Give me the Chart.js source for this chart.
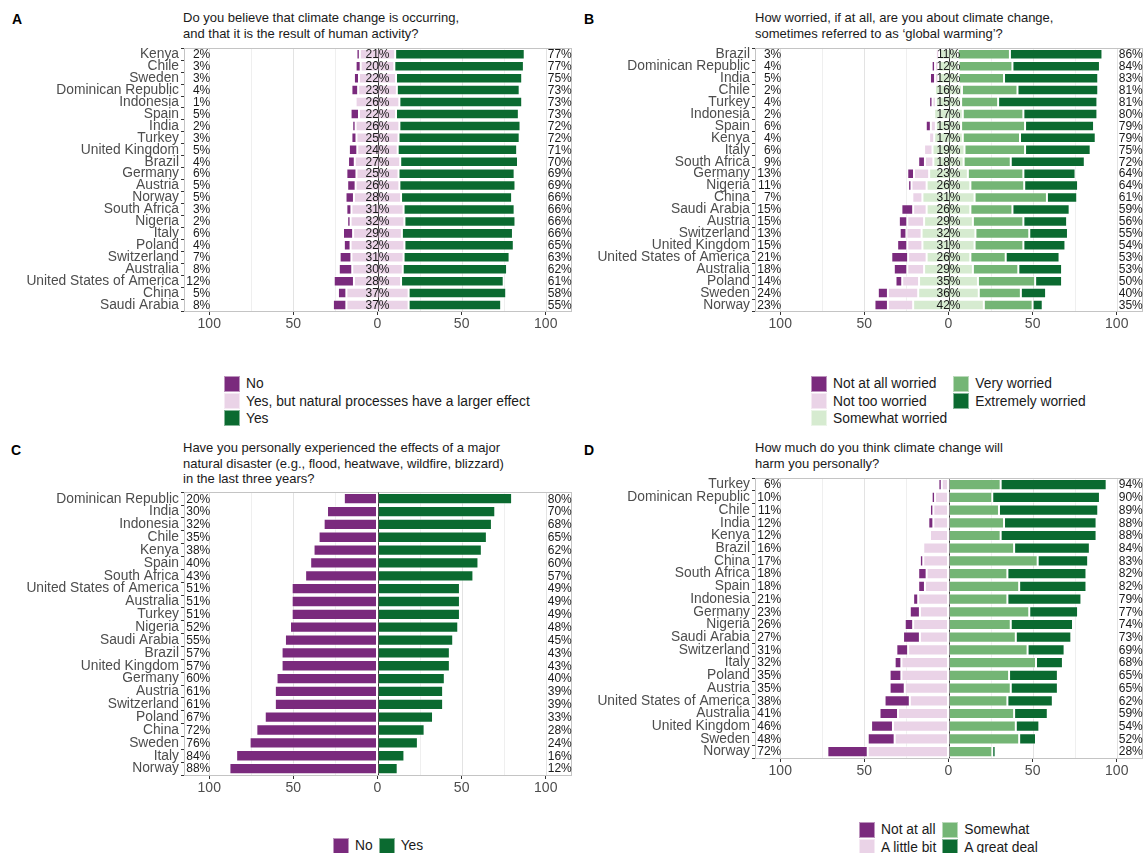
<!DOCTYPE html>
<html>
<head>
<meta charset="utf-8">
<script src="https://cdn.jsdelivr.net/npm/chart.js@4.4.0/dist/chart.umd.min.js"></script>
<style>
  body { margin: 0; background: #fff; font-family: "Liberation Sans", Arial, sans-serif; }
  #page { position: relative; width: 1144px; height: 853px; overflow: hidden; background: #fff; }
  .tag { position: absolute; font-weight: bold; font-size: 14px; color: #000; line-height: 16px; }
  .title { position: absolute; font-size: 13px; line-height: 15.7px; color: #1a1a1a; white-space: nowrap; }
  .legend { position: absolute; font-size: 13.8px; color: #1a1a1a; display: flex; gap: 6px; }
  .legend .col { display: flex; flex-direction: column; }
  .legend .item { display: flex; align-items: center; height: 17.4px; white-space: nowrap; }
  .legend .sw { width: 16px; height: 16px; margin-right: 6px; box-sizing: border-box; border: 1px solid rgba(255,255,255,0.5); }
  canvas { position: absolute; }
</style>
</head>
<body>
<div id="page">
  <div class="tag" style="left:12px;top:11px">A</div>
  <div class="title" style="left:183px;top:10px">Do you believe that climate change is occurring,<br>and that it is the result of human activity?</div>
  <div class="tag" style="left:584px;top:11px">B</div>
  <div class="title" style="left:755px;top:10px">How worried, if at all, are you about climate change,<br>sometimes referred to as ‘global warming’?</div>
  <div class="tag" style="left:11px;top:442px">C</div>
  <div class="title" style="left:183px;top:440px">Have you personally experienced the effects of a major<br>natural disaster (e.g., flood, heatwave, wildfire, blizzard)<br>in the last three years?</div>
  <div class="tag" style="left:584px;top:442px">D</div>
  <div class="title" style="left:755px;top:440px">How much do you think climate change will<br>harm you personally?</div>

  <canvas id="chartA"></canvas>
  <canvas id="chartB"></canvas>
  <canvas id="chartC"></canvas>
  <canvas id="chartD"></canvas>

  <div class="legend" id="legendA" style="left:224px;top:375px"></div>
  <div class="legend" id="legendB" style="left:811px;top:375px"></div>
  <div class="legend" id="legendC" style="left:333px;top:837px"></div>
  <div class="legend" id="legendD" style="left:859px;top:821px"></div>
</div>

<script>
// ---------- Panel A: human-caused climate change ----------
const countriesA = ["Kenya", "Chile", "Sweden", "Dominican Republic", "Indonesia", "Spain", "India", "Turkey",
  "United Kingdom", "Brazil", "Germany", "Austria", "Norway", "South Africa", "Nigeria", "Italy", "Poland",
  "Switzerland", "Australia", "United States of America", "China", "Saudi Arabia"];
const noA      = [2, 3, 3, 4, 1, 5, 2, 3, 5, 4, 6, 5, 5, 3, 2, 6, 4, 7, 8, 12, 5, 8];
const naturalA = [21, 20, 22, 23, 26, 22, 26, 25, 24, 27, 25, 26, 28, 31, 32, 29, 32, 31, 30, 28, 37, 37];
const yesA     = [77, 77, 75, 73, 73, 73, 72, 72, 71, 70, 69, 69, 66, 66, 66, 66, 65, 63, 62, 61, 58, 55];

// ---------- Panel B: worry about climate change ----------
const countriesB = ["Brazil", "Dominican Republic", "India", "Chile", "Turkey", "Indonesia", "Spain", "Kenya",
  "Italy", "South Africa", "Germany", "Nigeria", "China", "Saudi Arabia", "Austria", "Switzerland",
  "United Kingdom", "United States of America", "Australia", "Poland", "Sweden", "Norway"];
const notAtAllB  = [1, 2, 3, 1, 2, 1, 3, 1, 1, 4, 4, 2, 1, 7, 5, 4, 6, 10, 8, 4, 6, 8];
const notTooB    = [2, 2, 2, 1, 2, 1, 3, 3, 5, 5, 9, 9, 6, 8, 10, 9, 9, 11, 10, 10, 18, 15];
const somewhatB  = [11, 12, 12, 16, 15, 17, 15, 17, 19, 18, 23, 26, 31, 26, 29, 32, 31, 26, 29, 35, 36, 42];
const veryB      = [31, 32, 27, 33, 22, 36, 38, 34, 36, 28, 33, 32, 43, 25, 30, 32, 29, 21, 27, 34, 25, 29];
const extremelyB = [55, 52, 56, 48, 59, 44, 41, 45, 39, 44, 31, 32, 18, 34, 26, 23, 25, 32, 26, 16, 15, 6];

// ---------- Panel C: experienced a major natural disaster ----------
const countriesC = ["Dominican Republic", "India", "Indonesia", "Chile", "Kenya", "Spain", "South Africa",
  "United States of America", "Australia", "Turkey", "Nigeria", "Saudi Arabia", "Brazil", "United Kingdom",
  "Germany", "Austria", "Switzerland", "Poland", "China", "Sweden", "Italy", "Norway"];
const noC  = [20, 30, 32, 35, 38, 40, 43, 51, 51, 51, 52, 55, 57, 57, 60, 61, 61, 67, 72, 76, 84, 88];
const yesC = [80, 70, 68, 65, 62, 60, 57, 49, 49, 49, 48, 45, 43, 43, 40, 39, 39, 33, 28, 24, 16, 12];

// ---------- Panel D: expected personal harm ----------
const countriesD = ["Turkey", "Dominican Republic", "Chile", "India", "Kenya", "Brazil", "China", "South Africa",
  "Spain", "Indonesia", "Germany", "Nigeria", "Saudi Arabia", "Switzerland", "Italy", "Poland", "Austria",
  "United States of America", "Australia", "United Kingdom", "Sweden", "Norway"];
const notAtAllD  = [2, 2, 2, 3, 1, 1, 2, 5, 4, 3, 6, 5, 10, 7, 4, 7, 9, 15, 11, 13, 16, 24];
const littleBitD = [4, 8, 9, 9, 11, 15, 15, 13, 14, 18, 17, 21, 17, 24, 28, 28, 26, 23, 30, 33, 32, 48];
const somewhatD  = [31, 26, 30, 33, 31, 39, 53, 35, 42, 35, 48, 37, 40, 47, 52, 36, 37, 35, 39, 40, 42, 26];
const greatDealD = [63, 64, 59, 55, 57, 45, 30, 47, 40, 44, 29, 37, 33, 22, 16, 29, 28, 27, 20, 14, 10, 2];

// ---------- shared look ----------
const xTicks = [-100, -50, 0, 50, 100];
const PURPLE = "#7a2a7d", PINK = "#ead3e7", LIGHTGREEN = "#d6ebd0", MIDGREEN = "#74b575", DARKGREEN = "#0b6a30";
const FONT = "'Liberation Sans', Arial, sans-serif";

// cumulative helpers for diverging stacks
const add = (a, b) => a.map((v, i) => v + b[i]);
const neg = a => a.map(v => -v);
const half = a => a.map(v => v / 2);
const pct = a => a.map(v => Math.round(v) + "%");

// each segment is drawn as a floating bar [lo, hi]
function segment(label, color, lo, hi) {
  return { label, color, lo, hi };
}

function buildLegend(id, columns) {
  const el = document.getElementById(id);
  columns.forEach(col => {
    const c = document.createElement("div");
    c.className = "col";
    col.forEach(([label, color]) => {
      const it = document.createElement("div");
      it.className = "item";
      const sw = document.createElement("div");
      sw.className = "sw";
      sw.style.background = color;
      const tx = document.createElement("span");
      tx.textContent = label;
      it.appendChild(sw);
      it.appendChild(tx);
      c.appendChild(it);
    });
    el.appendChild(c);
  });
}

function makePanel(id, geo, categories, segments, labels, zeroOnTop) {
  const canvas = document.getElementById(id);
  canvas.width = geo.width;
  canvas.height = geo.height;
  canvas.style.left = geo.left + "px";
  canvas.style.top = geo.top + "px";
  canvas.style.width = geo.width + "px";
  canvas.style.height = geo.height + "px";

  const panelDecor = {
    id: "panelDecor",
    beforeDatasetsDraw(chart) {
      const { ctx, chartArea: a, scales: { x } } = chart;
      ctx.save();
      ctx.lineWidth = 1;
      for (let v = -100; v <= 100; v += 25) {
        if (v === 0) continue;
        const px = Math.round(x.getPixelForValue(v)) + 0.5;
        ctx.strokeStyle = (v % 50 === 0) ? "#e3e3e3" : "#efefef";
        ctx.beginPath(); ctx.moveTo(px, a.top); ctx.lineTo(px, a.bottom); ctx.stroke();
      }
      const zx = Math.round(x.getPixelForValue(0)) + 0.5;
      ctx.strokeStyle = "#3a3a3a";
      ctx.beginPath(); ctx.moveTo(zx, a.top); ctx.lineTo(zx, a.bottom); ctx.stroke();
      ctx.strokeStyle = "#c4c4c4";
      ctx.strokeRect(Math.round(a.left) + 0.5, Math.round(a.top) + 0.5,
                     Math.round(a.right - a.left), Math.round(a.bottom - a.top));
      ctx.restore();
    },
    afterDatasetsDraw(chart) {
      const { ctx, chartArea: a, scales: { x, y } } = chart;
      ctx.save();
      if (zeroOnTop) {
        const zx = Math.round(x.getPixelForValue(0)) + 0.5;
        ctx.strokeStyle = "rgba(40,40,40,0.75)";
        ctx.lineWidth = 0.8;
        ctx.beginPath(); ctx.moveTo(zx, a.top); ctx.lineTo(zx, a.bottom); ctx.stroke();
      }
      ctx.font = "12px " + FONT;
      ctx.fillStyle = "#1a1a1a";
      ctx.textBaseline = "middle";
      categories.forEach((c, i) => {
        const py = y.getPixelForValue(i) + 0.5;
        ctx.textAlign = "right";
        ctx.fillText(labels.left[i], x.getPixelForValue(-100) + 1, py);
        ctx.textAlign = "left";
        ctx.fillText(labels.right[i], x.getPixelForValue(100) + 2, py);
        if (labels.mid) {
          ctx.textAlign = "center";
          ctx.fillText(labels.mid[i], x.getPixelForValue(0), py);
        }
      });
      ctx.restore();
    }
  };

  return new Chart(canvas, {
    type: "bar",
    data: {
      labels: categories,
      datasets: segments.map(s => ({
        label: s.label,
        data: s.lo.map((v, i) => [v, s.hi[i]]),
        backgroundColor: s.color,
        borderColor: "rgba(255,255,255,0.45)",
        borderWidth: 1,
        borderSkipped: false,
        barPercentage: 0.88,
        categoryPercentage: 1,
        grouped: false
      }))
    },
    options: {
      indexAxis: "y",
      responsive: false,
      animation: false,
      devicePixelRatio: 1,
      layout: {
        padding: { left: 0, right: geo.left + geo.width - geo.plotRight, top: geo.plotTop - geo.top, bottom: 0 }
      },
      plugins: { legend: { display: false }, tooltip: { enabled: false } },
      scales: {
        x: {
          type: "linear",
          min: -115, max: 115,
          afterBuildTicks: s => { s.ticks = xTicks.map(v => ({ value: v })); },
          afterFit: s => { s.height = geo.top + geo.height - geo.plotBottom; },
          grid: { drawOnChartArea: false, drawTicks: true, tickLength: 4, color: "#333", lineWidth: 1 },
          border: { display: false },
          ticks: { callback: v => Math.abs(v), font: { family: FONT, size: 14 }, color: "#4d4d4d", padding: 1, maxRotation: 0 }
        },
        y: {
          type: "category",
          afterFit: s => { s.width = geo.plotLeft - geo.left; },
          grid: { drawOnChartArea: false, drawTicks: true, tickLength: 3, color: "#333", lineWidth: 1 },
          border: { display: false },
          ticks: { font: { family: FONT, size: 13.8 }, color: "#4d4d4d", padding: 2, autoSkip: false }
        }
      }
    },
    plugins: [panelDecor]
  });
}

// ---------- Panel A ----------
{
  const h = half(naturalA);
  makePanel("chartA",
    { left: 0, top: 38, width: 580, height: 310, plotLeft: 184, plotRight: 571, plotTop: 46, plotBottom: 311 },
    countriesA,
    [
      segment("No", PURPLE, neg(add(h, noA)), neg(h)),
      segment("Yes, but natural processes have a larger effect", PINK, neg(h), h),
      segment("Yes", DARKGREEN, h, add(h, yesA))
    ],
    { left: pct(noA), mid: pct(naturalA), right: pct(yesA) },
    true);
  buildLegend("legendA", [[["No", PURPLE], ["Yes, but natural processes have a larger effect", PINK], ["Yes", DARKGREEN]]]);
}

// ---------- Panel B ----------
{
  const h = half(somewhatB);
  const leftTot = add(notAtAllB, notTooB);
  const rightTot = add(veryB, extremelyB);
  makePanel("chartB",
    { left: 580, top: 38, width: 564, height: 310, plotLeft: 755, plotRight: 1142, plotTop: 46, plotBottom: 311 },
    countriesB,
    [
      segment("Not at all worried", PURPLE, neg(add(h, leftTot)), neg(add(h, notTooB))),
      segment("Not too worried", PINK, neg(add(h, notTooB)), neg(h)),
      segment("Somewhat worried", LIGHTGREEN, neg(h), h),
      segment("Very worried", MIDGREEN, h, add(h, veryB)),
      segment("Extremely worried", DARKGREEN, add(h, veryB), add(h, rightTot))
    ],
    { left: pct(leftTot), mid: pct(somewhatB), right: pct(rightTot) },
    true);
  buildLegend("legendB", [
    [["Not at all worried", PURPLE], ["Not too worried", PINK], ["Somewhat worried", LIGHTGREEN]],
    [["Very worried", MIDGREEN], ["Extremely worried", DARKGREEN]]
  ]);
}

// ---------- Panel C ----------
{
  const zeros = noC.map(() => 0);
  makePanel("chartC",
    { left: 0, top: 482, width: 580, height: 330, plotLeft: 184, plotRight: 571, plotTop: 490, plotBottom: 775 },
    countriesC,
    [
      segment("No", PURPLE, neg(noC), zeros),
      segment("Yes", DARKGREEN, zeros, yesC)
    ],
    { left: pct(noC), mid: null, right: pct(yesC) },
    true);
  buildLegend("legendC", [[["No", PURPLE]], [["Yes", DARKGREEN]]]);
}

// ---------- Panel D ----------
{
  const zeros = notAtAllD.map(() => 0);
  const leftTot = add(notAtAllD, littleBitD);
  const rightTot = add(somewhatD, greatDealD);
  makePanel("chartD",
    { left: 580, top: 468, width: 564, height: 330, plotLeft: 755, plotRight: 1142, plotTop: 476, plotBottom: 758 },
    countriesD,
    [
      segment("Not at all", PURPLE, neg(leftTot), neg(littleBitD)),
      segment("A little bit", PINK, neg(littleBitD), zeros),
      segment("Somewhat", MIDGREEN, zeros, somewhatD),
      segment("A great deal", DARKGREEN, somewhatD, rightTot)
    ],
    { left: pct(leftTot), mid: null, right: pct(rightTot) },
    false);
  buildLegend("legendD", [
    [["Not at all", PURPLE], ["A little bit", PINK]],
    [["Somewhat", MIDGREEN], ["A great deal", DARKGREEN]]
  ]);
}
</script>
</body>
</html>
